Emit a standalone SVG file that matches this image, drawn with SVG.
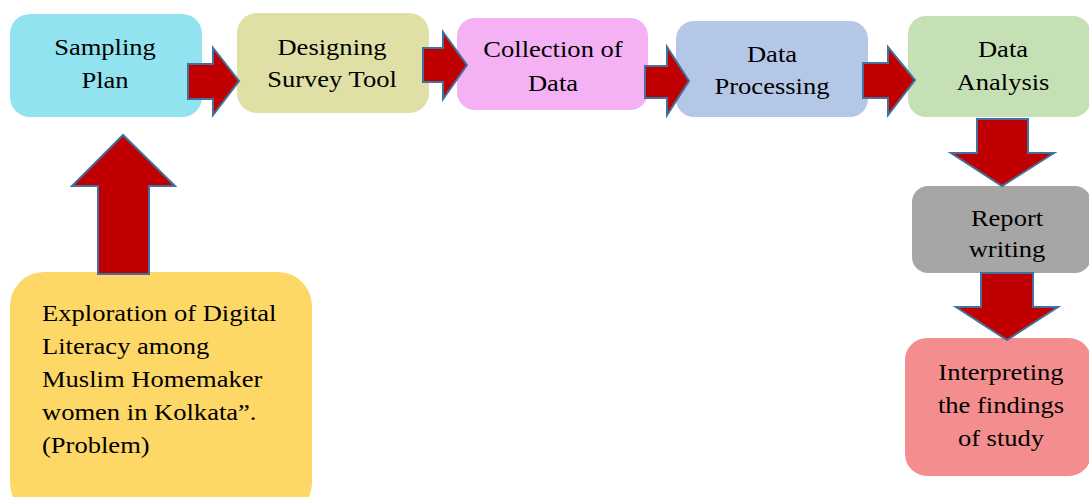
<svg xmlns="http://www.w3.org/2000/svg" width="1089" height="497" viewBox="0 0 1089 497">
<style>
.box{stroke:none}
.arr{fill:#C00000;stroke:#41719C;stroke-width:2;stroke-linejoin:miter}
.t{font-family:'Liberation Serif','Times New Roman',Times,serif;font-size:23.5px;fill:#000}
.c{text-anchor:middle}
</style>
<rect width="1089" height="497" fill="#ffffff"/>
<g id="sampling">
<rect class="box" x="10" y="14" width="192" height="103" rx="20" fill="#92E3F0"/>
<text class="t c" font-family="Liberation Serif" transform="translate(105 0) scale(1.13 1)" y="55">Sampling</text>
<text class="t c" font-family="Liberation Serif" transform="translate(105 0) scale(1.13 1)" y="88">Plan</text>
</g>
<g id="designing">
<rect class="box" x="237" y="13" width="192" height="100" rx="20" fill="#E0E0A6"/>
<text class="t c" font-family="Liberation Serif" transform="translate(332 0) scale(1.13 1)" y="55">Designing</text>
<text class="t c" font-family="Liberation Serif" transform="translate(332 0) scale(1.13 1)" y="87">Survey Tool</text>
</g>
<g id="collection">
<rect class="box" x="457" y="18" width="191" height="92" rx="18" fill="#F4B1F4"/>
<text class="t c" font-family="Liberation Serif" transform="translate(553 0) scale(1.13 1)" y="57">Collection of</text>
<text class="t c" font-family="Liberation Serif" transform="translate(553 0) scale(1.13 1)" y="91">Data</text>
</g>
<g id="processing">
<rect class="box" x="676" y="21" width="192" height="96" rx="18" fill="#B4C7E7"/>
<text class="t c" font-family="Liberation Serif" transform="translate(772 0) scale(1.13 1)" y="62">Data</text>
<text class="t c" font-family="Liberation Serif" transform="translate(772 0) scale(1.13 1)" y="94">Processing</text>
</g>
<g id="analysis">
<rect class="box" x="908" y="16" width="183" height="101" rx="18" fill="#C5E0B4"/>
<text class="t c" font-family="Liberation Serif" transform="translate(1003 0) scale(1.13 1)" y="57">Data</text>
<text class="t c" font-family="Liberation Serif" transform="translate(1003 0) scale(1.13 1)" y="90">Analysis</text>
</g>
<g id="report">
<rect class="box" x="912" y="186" width="179" height="87" rx="16" fill="#A6A6A6"/>
<text class="t c" font-family="Liberation Serif" transform="translate(1007 0) scale(1.13 1)" y="226">Report</text>
<text class="t c" font-family="Liberation Serif" transform="translate(1007 0) scale(1.13 1)" y="257">writing</text>
</g>
<g id="interpreting">
<rect class="box" x="905" y="338" width="186" height="138" rx="22" fill="#F48E8E"/>
<text class="t c" font-family="Liberation Serif" transform="translate(1001 0) scale(1.13 1)" y="380">Interpreting</text>
<text class="t c" font-family="Liberation Serif" transform="translate(1001 0) scale(1.13 1)" y="413">the findings</text>
<text class="t c" font-family="Liberation Serif" transform="translate(1001 0) scale(1.13 1)" y="446">of study</text>
</g>
<g id="problem">
<rect class="box" x="10" y="272" width="302" height="245" rx="34" fill="#FED866"/>
<text class="t" font-family="Liberation Serif" transform="translate(42 0) scale(1.13 1)" y="321">Exploration of Digital</text>
<text class="t" font-family="Liberation Serif" transform="translate(42 0) scale(1.13 1)" y="354">Literacy among</text>
<text class="t" font-family="Liberation Serif" transform="translate(42 0) scale(1.13 1)" y="387">Muslim Homemaker</text>
<text class="t" font-family="Liberation Serif" transform="translate(42 0) scale(1.13 1)" y="420">women in Kolkata”.</text>
<text class="t" font-family="Liberation Serif" transform="translate(42 0) scale(1.13 1)" y="453">(Problem)</text>
</g>
<g id="connectors">
<polygon class="arr" points="188,64 213,64 213,48 239,81 213,115 213,99 188,99"/>
<polygon class="arr" points="423,48 443,48 443,32 467,65 443,99 443,82 423,82"/>
<polygon class="arr" points="645,66 667,66 667,47 689,81 667,115 667,98 645,98"/>
<polygon class="arr" points="863,63 888,63 888,47 915,80 888,115 888,98 863,98"/>
<polygon class="arr" points="977,119 1028,119 1028,153 1054,153 1002,186 951,153 977,153"/>
<polygon class="arr" points="981,273 1033,273 1033,307 1058,307 1007,340 956,307 981,307"/>
<polygon class="arr" points="98,274 149,274 149,186 175,186 123,135 72,186 98,186"/>
</g>
</svg>
